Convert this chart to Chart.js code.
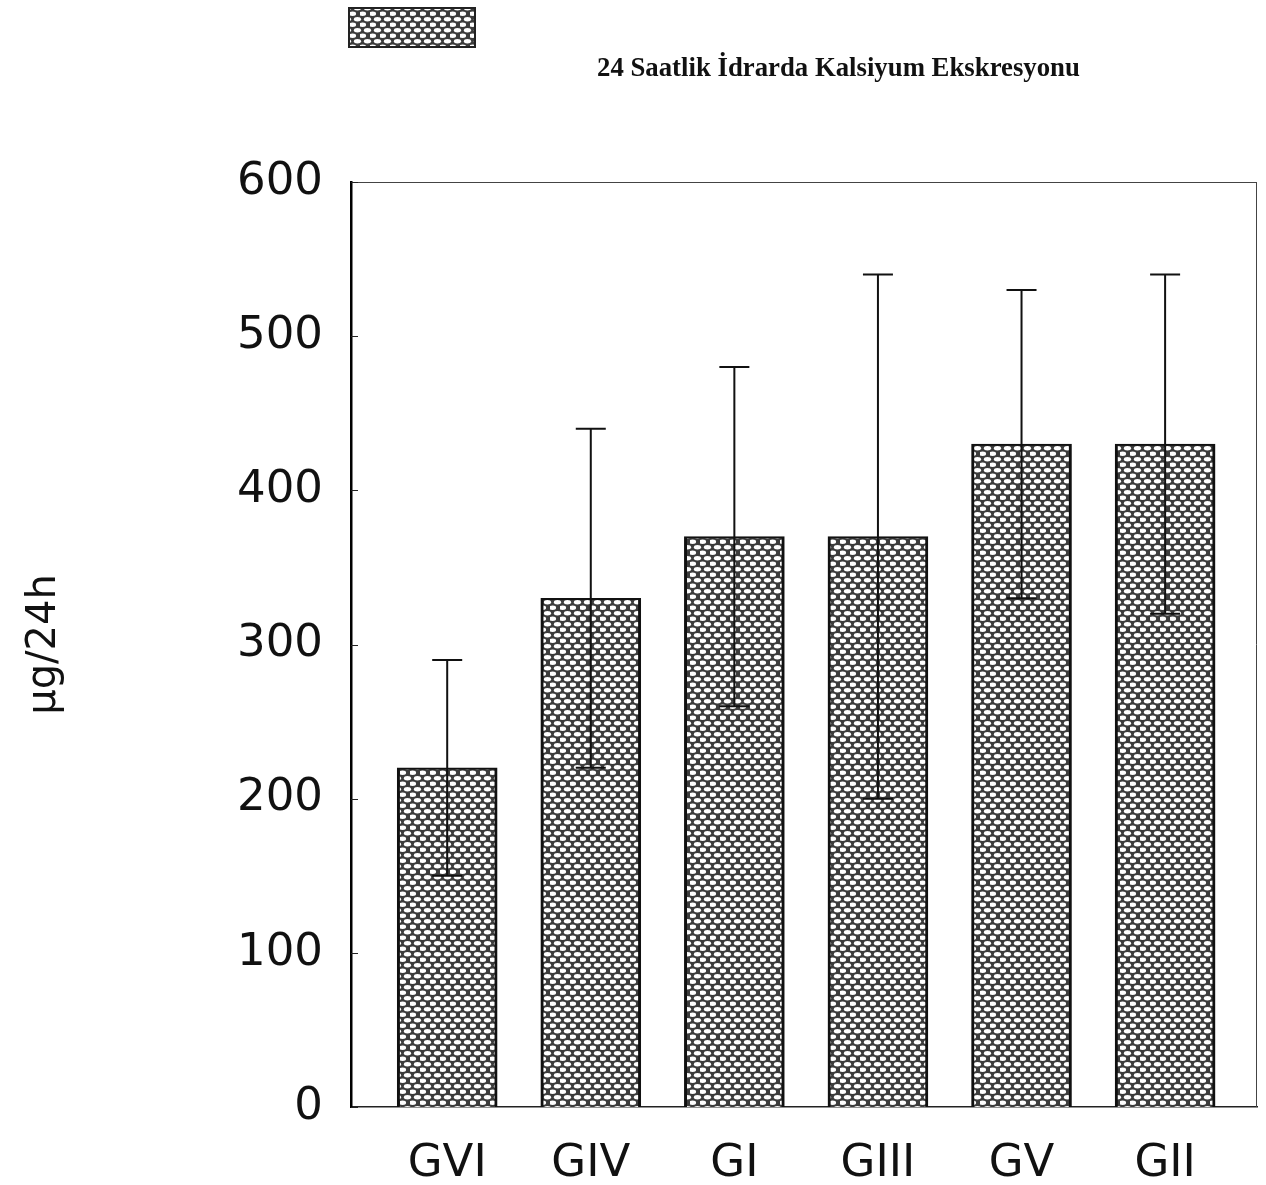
<!DOCTYPE html>
<html><head><meta charset="utf-8">
<script src="https://cdn.jsdelivr.net/npm/chart.js@4/dist/chart.umd.min.js"></script>
<style>html,body{margin:0;padding:0;background:#fff}#wrap{width:1266px;height:1185px}</style>
</head><body><div id="wrap"><canvas id="c" width="1266" height="1185"></canvas></div>
<script>
const categories = ['GVI','GIV','GI','GIII','GV','GII'];
const means = [220,330,370,370,430,430];
const errLow = [150,220,260,200,330,320];
const errHigh = [290,440,480,540,530,540];
const yTicks = [0,100,200,300,400,500,600];
const seriesLabel = '24 Saatlik İdrarda Kalsiyum Ekskresyonu';
const yTitle = 'µg/24h';

const canvas = document.getElementById('c');
const ctx = canvas.getContext('2d');

function makePattern(){
  const t = document.createElement('canvas'); t.width = 10; t.height = 11;
  const g = t.getContext('2d');
  g.fillStyle = '#3c3c3c'; g.fillRect(0,0,10,11);
  g.fillStyle = '#ffffff';
  [[2.5,2.75],[7.5,8.25],[-2.5,8.25],[12.5,8.25],[2.5,13.75],[7.5,-2.75]].forEach(([x,y])=>{
    g.beginPath(); g.ellipse(x,y,3.6,2.2,0,0,Math.PI*2); g.fill();
  });
  return ctx.createPattern(t,'repeat');
}
const pattern = makePattern();

const decor = {
  id:'decor',
  afterDatasetsDraw(chart){
    const c = chart.ctx, xs = chart.scales.x, ys = chart.scales.y, a = chart.chartArea;
    c.save();
    // error bars
    c.strokeStyle = '#111'; c.lineWidth = 2;
    categories.forEach((cat,i)=>{
      const x = xs.getPixelForValue(i);
      const y1 = ys.getPixelForValue(errLow[i]), y2 = ys.getPixelForValue(errHigh[i]);
      c.beginPath(); c.moveTo(x,y1); c.lineTo(x,y2);
      c.moveTo(x-15,y2); c.lineTo(x+15,y2);
      c.moveTo(x-15,y1); c.lineTo(x+15,y1);
      c.stroke();
    });
    // top and right frame
    c.strokeStyle = '#444'; c.lineWidth = 1;
    c.beginPath(); c.moveTo(a.left,a.top+0.5); c.lineTo(a.right,a.top+0.5);
    c.moveTo(a.right-0.5,a.top); c.lineTo(a.right-0.5,a.bottom); c.stroke();
    // inner ticks on y axis
    c.strokeStyle = '#222'; c.lineWidth = 1;
    yTicks.forEach(v=>{ const y = Math.round(ys.getPixelForValue(v))+0.5;
      c.beginPath(); c.moveTo(a.left,y); c.lineTo(a.left+7,y); c.stroke(); });
    // legend box
    c.fillStyle = pattern; c.fillRect(349,8,126,39);
    c.strokeStyle = '#222'; c.lineWidth = 2; c.strokeRect(349,8,126,39);
    // legend text
    c.fillStyle = '#111';
    c.font = 'bold 100px "Liberation Serif"';
    const w = c.measureText(seriesLabel).width;
    const fs = 100*483/w;
    c.font = 'bold '+fs.toFixed(2)+'px "Liberation Serif"';
    c.textBaseline = 'alphabetic'; c.textAlign = 'left';
    c.fillText(seriesLabel, 597, 76);
    c.restore();
  }
};

new Chart(ctx,{
  type:'bar',
  data:{datasets:[{
    label: seriesLabel,
    data: categories.map((c,i)=>({x:i,y:means[i]})),
    backgroundColor: pattern,
    borderColor:'#111',
    borderWidth:{left:3,right:3,top:2,bottom:0},
    borderSkipped:'start',
    barThickness:100
  }]},
  options:{
    responsive:false, animation:false, devicePixelRatio:1,
    layout:{padding:{top:182,left:0,right:9,bottom:0}},
    plugins:{legend:{display:false},tooltip:{enabled:false}},
    scales:{
      x:{type:'linear',min:-0.67,max:5.64,offset:false,
        afterBuildTicks:s=>{s.ticks = categories.map((c,i)=>({value:i}));},
        ticks:{callback:v=>categories[v],font:{family:'DejaVu Sans',size:45},color:'#111',padding:30,maxRotation:0,autoSkip:false},
        grid:{display:false,drawTicks:false},
        border:{display:true,color:'#222',width:1.5},
        afterFit:s=>{s.height=78;}
      },
      y:{min:0,max:600,
        afterBuildTicks:s=>{s.ticks = yTicks.map(v=>({value:v}));},
        ticks:{font:{family:'DejaVu Sans',size:45},color:'#111',padding:28},
        grid:{display:false,drawTicks:false},
        border:{display:true,color:'#000',width:2.5},
        title:{display:true,text:yTitle,color:'#111',font:{family:'DejaVu Sans',size:40},padding:{top:21,bottom:0}},
        afterFit:s=>{s.width=351;}
      }
    }
  },
  plugins:[decor]
});
</script></body></html>
